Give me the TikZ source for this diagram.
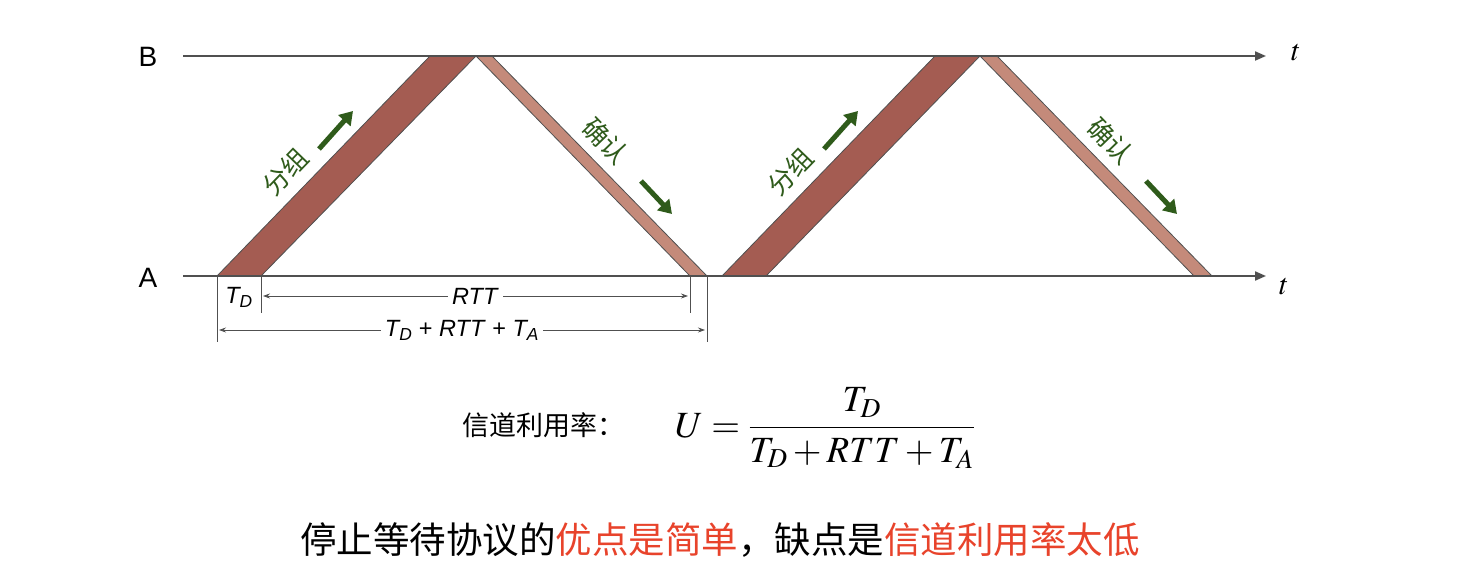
\documentclass[tikz,border=0pt]{standalone}
\usepackage{mathptmx}
\usepackage{fontspec}
\setmainfont{Liberation Sans}
\newfontfamily\cjk{Noto Sans CJK SC}
\usetikzlibrary{arrows.meta}
\definecolor{axgray}{RGB}{80,80,80}
\definecolor{pktred}{RGB}{164,92,82}
\definecolor{ackpink}{RGB}{196,138,122}
\definecolor{darkgreen}{RGB}{47,91,27}
\definecolor{hired}{RGB}{232,67,43}
\begin{document}
\begin{tikzpicture}[x=1pt,y=-1pt,
  axis/.style={draw=axgray,line width=2pt,-{Triangle[length=11pt,width=9pt]}},
  pkt/.style={draw=axgray,line width=0.8pt,fill=pktred},
  ack/.style={draw=axgray,line width=0.8pt,fill=ackpink},
  dir/.style={draw=darkgreen,line width=5pt,-{Triangle[length=13pt,width=16pt]}},
  lbl/.style={text=darkgreen,font=\cjk\fontsize{26}{26}\selectfont},
  dim/.style={draw=axgray,line width=0.8pt},
  dimarr/.style={draw=axgray,line width=0.8pt,{Stealth[length=7pt,width=5pt]}-{Stealth[length=7pt,width=5pt]}},
  every node/.style={inner sep=1pt}]
\useasboundingbox (0,0) rectangle (1468,588);
\coordinate (b0) at (183,56);
\coordinate (b1) at (1266,56);
\coordinate (a0) at (183,276);
\coordinate (a1) at (1266,276);
\coordinate (pa1) at (217,276);
\coordinate (pa2) at (261,276);
\coordinate (pb1) at (430,56);
\coordinate (pb2) at (476,56);
\coordinate (ab1) at (476,56);
\coordinate (ab2) at (492,56);
\coordinate (aa1) at (690,276);
\coordinate (aa2) at (707,276);
\coordinate (qa1) at (722,276);
\coordinate (qa2) at (766,276);
\coordinate (qb1) at (935,56);
\coordinate (qb2) at (980,56);
\coordinate (cb1) at (980,56);
\coordinate (cb2) at (997,56);
\coordinate (ca1) at (1194,276);
\coordinate (ca2) at (1212,276);

  % packets and acks
  \draw[pkt] (pa1) -- (pb1) -- (pb2) -- (pa2) -- cycle;
  \draw[ack] (ab1) -- (ab2) -- (aa2) -- (aa1) -- cycle;
  \draw[pkt] (qa1) -- (qb1) -- (qb2) -- (qa2) -- cycle;
  \draw[ack] (cb1) -- (cb2) -- (ca2) -- (ca1) -- cycle;

  % time axes
  \draw[axis] (b0) -- (b1);
  \draw[axis] (a0) -- (a1);
  \node (nB) at (148,57) {\fontsize{28}{28}\selectfont B};
  \node (nA) at (148,278) {\fontsize{28}{28}\selectfont A};
  \node (tB) at (1296,53) {\fontsize{30}{30}\selectfont $t$};
  \node (tA) at (1284,287) {\fontsize{30}{30}\selectfont $t$};

  % direction labels
  \node[lbl,rotate=46] (fz1) at (285,172) {分组};
  \node[lbl,rotate=-46] (qr1) at (606,141) {确认};
  \node[lbl,rotate=46] (fz2) at (790,172) {分组};
  \node[lbl,rotate=-46] (qr2) at (1111,141) {确认};
\coordinate (g1s) at (319,149);
\coordinate (g1e) at (353,111);
\coordinate (g2s) at (641,181);
\coordinate (g2e) at (672,214);
\coordinate (g3s) at (824,149);
\coordinate (g3e) at (858,111);
\coordinate (g4s) at (1146,181);
\coordinate (g4e) at (1177,214);
  \draw[dir] (g1s) -- (g1e);
  \draw[dir] (g2s) -- (g2e);
  \draw[dir] (g3s) -- (g3e);
  \draw[dir] (g4s) -- (g4e);

  % dimensions
\coordinate (d1) at (217,342);
\coordinate (d2) at (261,313);
\coordinate (d3) at (690,313);
\coordinate (d4) at (707,342);
\coordinate (r1) at (263,296);
\coordinate (r2) at (688,296);
\coordinate (s1) at (219,330);
\coordinate (s2) at (705,330);
  \draw[dim] (pa1) -- (d1);
  \draw[dim] (pa2) -- (d2);
  \draw[dim] (aa1) -- (d3);
  \draw[dim] (aa2) -- (d4);
  \node (td) at (239,297) {\fontsize{23.5}{23.5}\selectfont\textit{T\textsubscript{D}}};
  \draw[dimarr] (r1) -- node[fill=white,inner xsep=4pt] (rtt) {\fontsize{23.5}{23.5}\selectfont\textit{RTT}} (r2);
  \draw[dimarr] (s1) -- node[fill=white,inner xsep=4pt] (sum) {\fontsize{23.5}{23.5}\selectfont\textit{T\textsubscript{D}} + \textit{RTT} + \textit{T\textsubscript{A}}} (s2);

  % formula
  \node (uname) at (543,425) {\cjk\fontsize{27}{27}\selectfont 信道利用率：};
  \node (frm) at (825,428) {\fontsize{37}{44}\selectfont $\displaystyle U=\frac{T_D}{T_D+RTT+T_A}$};

  % conclusion
  \node (concl) at (720,540) {\cjk\fontsize{36.5}{36.5}\selectfont 停止等待协议的\textcolor{hired}{优点是简单}，缺点是\textcolor{hired}{信道利用率太低}};
\end{tikzpicture}
\end{document}
